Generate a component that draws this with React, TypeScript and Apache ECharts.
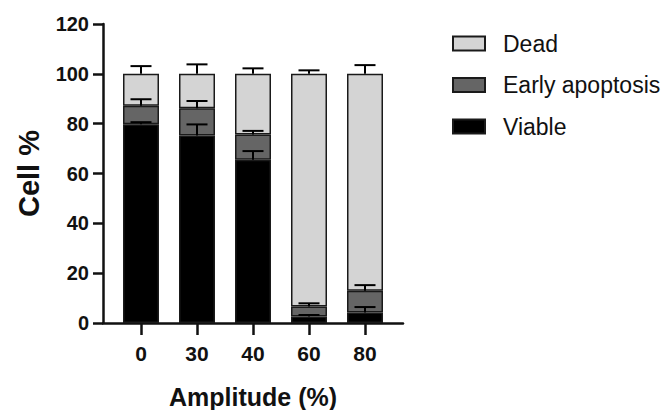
import React, { useEffect, useRef } from "react";
import * as echarts from "echarts";

const categories = ["0", "30", "40", "60", "80"];
const viable = [79.8, 75.3, 65.5, 2.6, 4.2];
const earlyApoptosis = [7.4, 10.9, 10.2, 4.0, 8.7];
const dead = [12.8, 13.8, 24.3, 93.4, 87.1];
const viableErr = [0.8, 4.4, 3.5, 0.6, 2.2];
const earlyErr = [2.6, 2.9, 1.4, 1.3, 2.3];
const deadErr = [3.1, 3.8, 2.2, 1.4, 3.5];

const FONT = "Arial, 'Liberation Sans', sans-serif";

export default function App() {
  const ref = useRef<HTMLDivElement>(null);
  useEffect(() => {
    if (!ref.current) return;
    const chart = echarts.init(ref.current, undefined, { renderer: "svg" });
    const idx = categories.map((_, i) => i);
    const errData: number[][] = [];
    idx.forEach((i) => {
      errData.push([i, viable[i], viableErr[i]]);
      errData.push([i, viable[i] + earlyApoptosis[i], earlyErr[i]]);
      errData.push([i, viable[i] + earlyApoptosis[i] + dead[i], deadErr[i]]);
    });
    const border = { borderColor: "#1a1a1a", borderWidth: 1.5 };
    const axisColor = "#111";
    chart.setOption({
      animation: false,
      grid: [
        { left: 113, right: 279, top: 24, bottom: 87, outerBoundsMode: "none", containLabel: false },
        { left: 103, right: 269, top: 24, bottom: 87, outerBoundsMode: "none", containLabel: false },
      ],
      legend: {
        data: ["Dead", "Early apoptosis", "Viable"],
        orient: "vertical",
        left: 447,
        top: 27,
        itemWidth: 32,
        itemHeight: 14,
        itemGap: 18.5,
        icon: "rect",
        selectedMode: false,
        textStyle: { fontSize: 23, color: "#111", fontFamily: FONT, padding: [0, 0, 0, 13] },
      },
      xAxis: [
        {
          type: "category",
          gridIndex: 0,
          data: categories,
          show: false,
        },
        {
          type: "value",
          gridIndex: 1,
          min: -0.68,
          max: 4.68,
          splitLine: { show: false },
          axisLine: { show: true, onZero: false, lineStyle: { color: axisColor, width: 2.5 } },
          axisTick: { show: true, customValues: idx, length: 12, lineStyle: { color: axisColor, width: 2.5 } },
          axisLabel: {
            customValues: idx,
            formatter: (v: number) => categories[Math.round(v)],
            fontSize: 21,
            fontWeight: "bold",
            color: "#111",
            fontFamily: FONT,
            margin: 20,
          },
          name: "Amplitude (%)",
          nameLocation: "middle",
          nameGap: 61,
          nameTextStyle: { fontSize: 25, fontWeight: "bold", color: "#111", fontFamily: FONT },
        },
      ],
      yAxis: [
        {
          type: "value",
          gridIndex: 0,
          min: 0,
          max: 120,
          interval: 20,
          show: false,
        },
        {
          type: "value",
          gridIndex: 1,
          min: 0,
          max: 120,
          interval: 20,
          splitLine: { show: false },
          axisLine: { show: true, onZero: false, lineStyle: { color: axisColor, width: 2.5 } },
          axisTick: { show: true, length: 10, lineStyle: { color: axisColor, width: 2.5 } },
          axisLabel: {
            fontSize: 20,
            fontWeight: "bold",
            color: "#111",
            fontFamily: FONT,
            margin: 14,
          },
          name: "Cell %",
          nameLocation: "middle",
          nameGap: 60,
          nameTextStyle: { fontSize: 29, fontWeight: "bold", color: "#111", fontFamily: FONT },
        },
      ],
      series: [
        {
          name: "Viable",
          type: "bar",
          stack: "a",
          barWidth: 36,
          xAxisIndex: 0,
          yAxisIndex: 0,
          itemStyle: { color: "#000", ...border },
          data: viable,
        },
        {
          name: "Early apoptosis",
          type: "bar",
          stack: "a",
          barWidth: 36,
          xAxisIndex: 0,
          yAxisIndex: 0,
          itemStyle: { color: "#656565", ...border },
          data: earlyApoptosis,
        },
        {
          name: "Dead",
          type: "bar",
          stack: "a",
          barWidth: 36,
          xAxisIndex: 0,
          yAxisIndex: 0,
          itemStyle: { color: "#d4d4d4", ...border },
          data: dead,
        },
        {
          type: "custom",
          xAxisIndex: 0,
          yAxisIndex: 0,
          clip: false,
          z: 10,
          data: errData,
          renderItem: (params: any, api: any) => {
            const x = api.value(0);
            const base = api.value(1);
            const err = api.value(2);
            const p0 = api.coord([x, base]);
            const p1 = api.coord([x, base + err]);
            const style = { stroke: "#000", lineWidth: 2 };
            return {
              type: "group",
              children: [
                { type: "line", shape: { x1: p0[0], y1: p0[1], x2: p1[0], y2: p1[1] }, style },
                { type: "line", shape: { x1: p1[0] - 10.5, y1: p1[1], x2: p1[0] + 10.5, y2: p1[1] }, style },
              ],
            };
          },
        },
      ],
    });
    return () => chart.dispose();
  }, []);
  return (
    <div
      ref={ref}
      style={{ position: "absolute", left: 0, top: 0, width: 672, height: 410, background: "#fff" }}
    />
  );
}
